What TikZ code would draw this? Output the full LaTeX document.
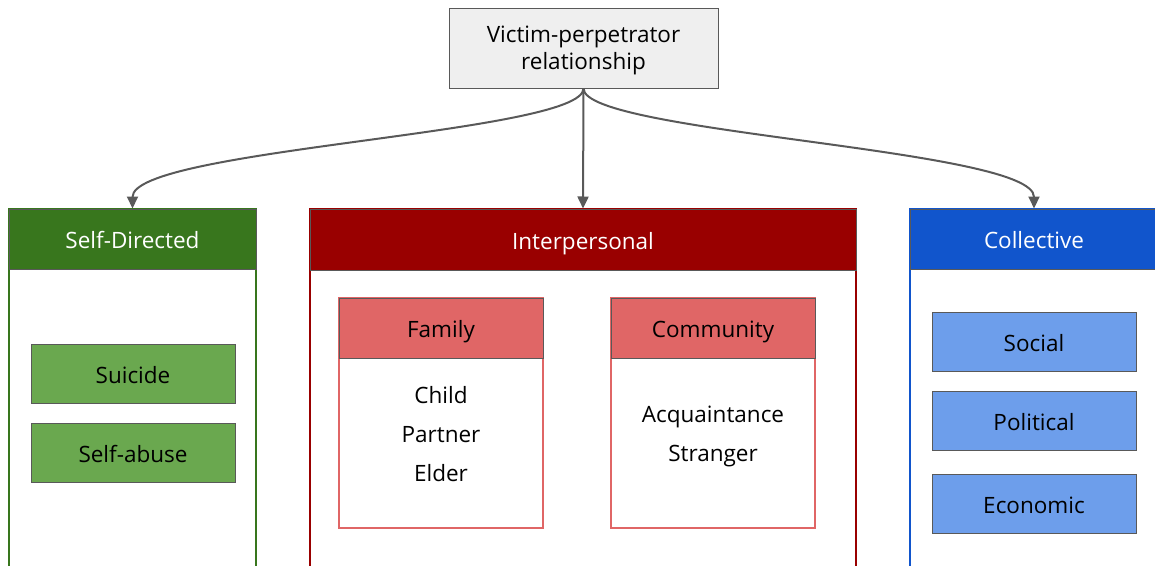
\documentclass[tikz,border=0pt]{standalone}
\usepackage{fontspec}
\setmainfont{Open Sans}
\usetikzlibrary{arrows.meta}

\definecolor{rootfill}{RGB}{239,239,239}
\definecolor{edgegray}{RGB}{89,89,89}
\definecolor{selfdark}{RGB}{56,118,29}
\definecolor{selflight}{RGB}{106,168,79}
\definecolor{interdark}{RGB}{153,0,0}
\definecolor{interlight}{RGB}{224,102,102}
\definecolor{colldark}{RGB}{17,85,204}
\definecolor{colllight}{RGB}{109,158,235}

\tikzset{every picture/.style={line width=1pt}}
\tikzset{
  label/.style={font=\fontsize{22.5}{27}\selectfont, inner sep=0pt},
  boxtext/.style={label, text height=19pt, text depth=0pt},
  item/.style={boxtext, draw=edgegray, minimum width=204pt, minimum height=59pt},
  head/.style={boxtext, draw=edgegray, minimum height=60pt, text=white},
  subhead/.style={boxtext, draw=edgegray, fill=interlight, minimum width=204pt, minimum height=60pt},
  panel/.style={line width=2pt},
  link/.style={draw=edgegray, line width=2pt, -{Triangle[length=12pt,width=11pt]}}
}

\begin{document}
\begin{tikzpicture}[x=1pt,y=1pt,yscale=-1,xscale=1]
\useasboundingbox (0,0) rectangle (1155,565);

% root
\node [label, draw=edgegray, fill=rootfill, minimum width=269pt, minimum height=80pt, align=center] (root) at (583.5,48) {\rule{0pt}{22pt}Victim-perpetrator\\relationship};

% Self-Directed panel
\draw [panel, draw=selfdark] (9,209) rectangle (256,580);
\node [head, fill=selfdark, minimum width=247pt] (hself) at (132.5,239) {Self-Directed};
\node [item, fill=selflight] (suicide) at (133,374) {Suicide};
\node [item, fill=selflight] (abuse) at (133,452.5) {Self-abuse};

% Interpersonal panel
\draw [panel, draw=interdark] (310,209) rectangle (856,580);
\node [head, fill=interdark, minimum width=546pt, minimum height=61pt] (hinter) at (583,239.5) {Interpersonal};

\draw [panel, draw=interlight] (339,298) rectangle (543,528);
\node [subhead] (hfamily) at (441,328) {Family};
\node [boxtext] (child) at (441,393.5) {Child};
\node [boxtext] (partner) at (441,432.5) {Partner};
\node [boxtext] (elder) at (441,471.5) {Elder};

\draw [panel, draw=interlight] (611,298) rectangle (815,528);
\node [subhead] (hcommunity) at (713,328) {Community};
\node [boxtext] (acquaint) at (713,412.5) {Acquaintance};
\node [boxtext] (stranger) at (713,451.5) {Stranger};

% Collective panel
\draw [panel, draw=colldark] (910,209) rectangle (1160,580);
\node [head, fill=colldark, minimum width=248pt] (hcoll) at (1034,239) {Collective};
\node [item, fill=colllight] (social) at (1034,341.5) {Social};
\node [item, fill=colllight] (political) at (1034,420.5) {Political};
\node [item, fill=colllight] (economic) at (1034,503.5) {Economic};

% links
\draw [link] (root.south) .. controls +(0,45) and +(0,-60) .. (hself.north);
\draw [link] (root.south) -- (hinter.north);
\draw [link] (root.south) .. controls +(0,45) and +(0,-60) .. (hcoll.north);

\end{tikzpicture}
\end{document}
